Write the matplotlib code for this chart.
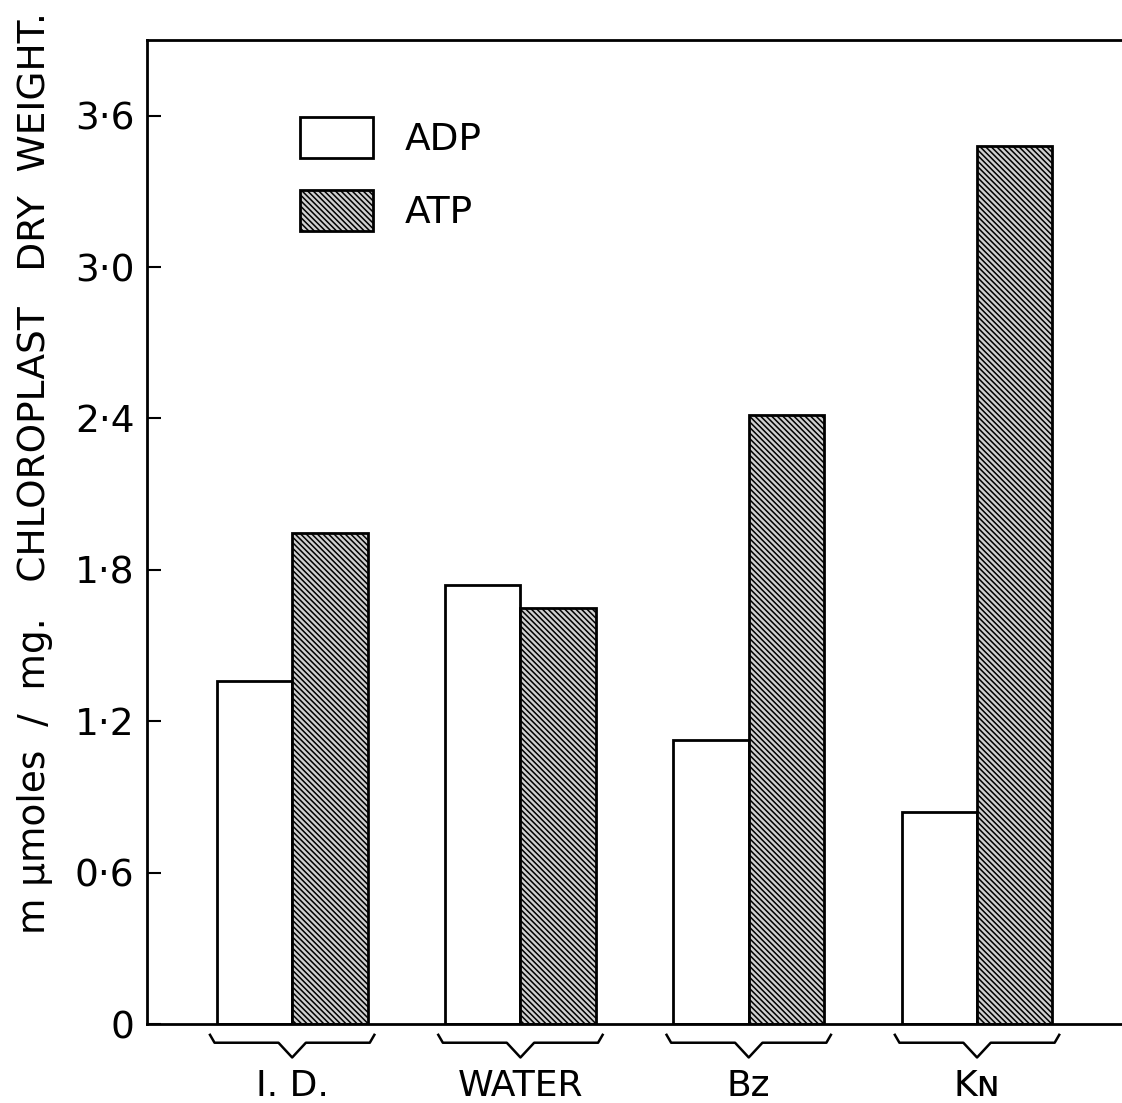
"""ADP / ATP levels in chloroplasts under different treatments."""

import matplotlib
matplotlib.use("Agg")
import matplotlib.pyplot as plt
import matplotlib.transforms as mtransforms
import numpy as np

# data
treatments = ["I. D.", "WATER", "Bz", "K\u0274"]
adp = [1.36, 1.74, 1.125, 0.84]
atp = [1.945, 1.65, 2.415, 3.48]
yticks = [0, 0.6, 1.2, 1.8, 2.4, 3.0, 3.6]
ytick_labels = ["0", "0\u00b76", "1\u00b72", "1\u00b78", "2\u00b74", "3\u00b70", "3\u00b76"]

plt.rcParams["font.family"] = ["DejaVu Sans"]
plt.rcParams["hatch.linewidth"] = 1.1
plt.rcParams["hatch.color"] = "black"

fig = plt.figure(figsize=(11.22, 11.03), dpi=100)
ax = fig.add_axes([0.131, 0.0716, 0.869, 0.8921])

x = np.arange(len(treatments))
width = 0.33

b1 = ax.bar(x - width / 2, adp, width, facecolor="white", edgecolor="black",
            linewidth=2.0, label="ADP")
b2 = ax.bar(x + width / 2, atp, width, facecolor="#cfcfcf", edgecolor="black",
            linewidth=2.0, hatch="\\\\\\\\\\\\", label="ATP")

ax.set_xlim(-0.636, 3.635)
ax.set_ylim(0, 3.9)
ax.set_yticks(yticks)
ax.set_yticklabels(ytick_labels, fontsize=27)
ax.tick_params(axis="y", direction="in", length=10, width=1.5, pad=9)
ax.set_xticks([])

for side in ["left", "bottom", "top"]:
    ax.spines[side].set_linewidth(2.0)
ax.spines["right"].set_visible(False)

# braces and group labels below the axis
trans = mtransforms.blended_transform_factory(ax.transData, ax.transAxes)
for c, name in zip(x, treatments):
    bx = [c - 0.36, c - 0.34, c - 0.06, c, c + 0.06, c + 0.34, c + 0.36]
    by = [-0.011, -0.019, -0.019, -0.034, -0.019, -0.019, -0.011]
    ax.plot(bx, by, color="black", linewidth=1.8, transform=trans, clip_on=False)
    ax.text(c, -0.063, name, transform=trans, ha="center", va="center", fontsize=26)

ax.legend(handles=[b1, b2], loc="upper left", bbox_to_anchor=(0.157, 0.922),
          frameon=False, fontsize=27, handlelength=1.95, handleheight=1.3,
          handletextpad=0.85, labelspacing=0.85, borderpad=0, borderaxespad=0)

fig.text(0.031, 0.571,
         "m \u03bcmoles  /  mg.   CHLOROPLAST   DRY  WEIGHT.",
         rotation=90, ha="center", va="center", fontsize=27)

fig.savefig("out.png", dpi=100)
plt.close(fig)
